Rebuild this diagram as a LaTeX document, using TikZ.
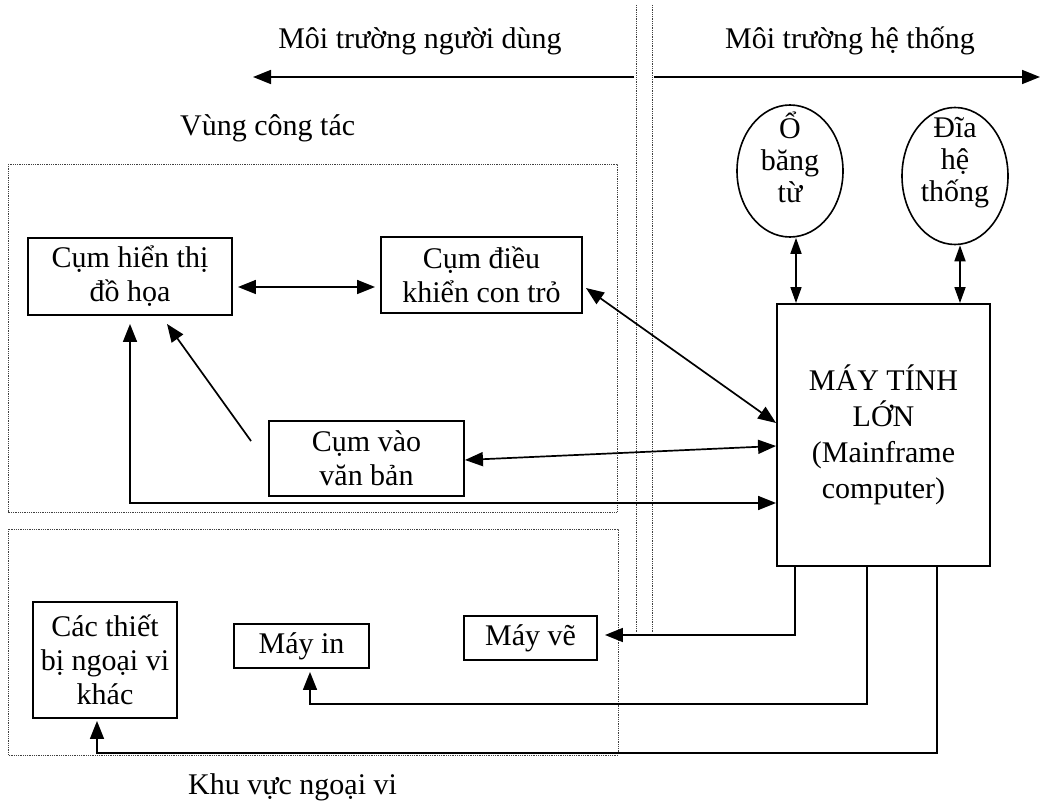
\documentclass[tikz,border=0pt]{standalone}
\usepackage{fontspec}
\setmainfont{Liberation Serif}
\usetikzlibrary{arrows.meta,shapes.geometric,calc}
\begin{document}
\begin{tikzpicture}[x=1pt,y=-1pt,
  box/.style={draw, line width=1.9pt, inner sep=0pt, align=center, font=\fontsize{30}{34}\selectfont},
  ell/.style={draw, ellipse, line width=1.6pt, inner sep=0pt},
  etext/.style={inner sep=0pt, align=center, font=\fontsize{30}{32}\selectfont},
  conn/.style={line width=1.7pt},
  tip/.style={-{Triangle[length=18pt,width=14pt]}},
  dtip/.style={{Triangle[length=18pt,width=14pt]}-{Triangle[length=18pt,width=14pt]}},
  stip/.style={{Triangle[length=16pt,width=11pt]}-{Triangle[length=16pt,width=11pt]}},
  zone/.style={densely dotted, line width=0.8pt, black!75},
  lbl/.style={font=\fontsize{30}{35}\selectfont, inner sep=0pt}]
\useasboundingbox (0,0) rectangle (1045,802);

% zones
\draw[zone] (8,164) rectangle (617,512);
\draw[zone] (8,529) rectangle (618,755);
\coordinate (v1t) at (636,5); \coordinate (v1b) at (636,633);
\coordinate (v2t) at (652,5); \coordinate (v2b) at (652,633);
\draw[zone] (v1t) -- (v1b);
\draw[zone] (v2t) -- (v2b);

% top labels and arrows
\node[lbl, anchor=base] (user) at (420,49) {Môi trường người dùng};
\node[lbl, anchor=base] (sys) at (850,49) {Môi trường hệ thống};
\coordinate (al0) at (634,77); \coordinate (al1) at (253,77);
\coordinate (ar0) at (654,77); \coordinate (ar1) at (1040,77);
\draw[conn, tip] (al0) -- (al1);
\draw[conn, tip] (ar0) -- (ar1);

\node[lbl, anchor=base west] (vung) at (180,136) {Vùng công tác};
\node[lbl, anchor=base west] (khu) at (188,794) {Khu vực ngoại vi};

% boxes
\node[box, minimum width=204pt, minimum height=77pt] (hienthi) at (130,276.5) {Cụm hiển thị\\đồ họa};
\node[box, minimum width=201pt, minimum height=76pt] (dieukhien) at (481.5,275) {Cụm điều\\khiển con trỏ};
\node[box, minimum width=195pt, minimum height=75pt] (vanban) at (366.5,458.5) {Cụm vào\\văn bản};
\node[box, minimum width=144pt, minimum height=116pt] (thietbi) at (105,660) {Các thiết\\bị ngoại vi\\khác};
\node[box, minimum width=135pt, minimum height=44pt] (mayin) at (301.5,646) {Máy in};
\node[box, minimum width=133pt, minimum height=44pt] (mayve) at (530.5,638) {Máy vẽ};
\node[box, minimum width=213pt, minimum height=262pt, font=\fontsize{30}{36}\selectfont] (main) at (883.5,435) {MÁY TÍNH\\LỚN\\(Mainframe\\computer)};
\node[ell, minimum width=106pt, minimum height=132pt] (bang) at (790,171) {};
\node[etext] (bangt) at ([yshift=14pt]bang.center) {Ổ\\băng\\từ};
\node[ell, minimum width=106pt, minimum height=137pt] (dia) at (955,176) {};
\node[etext] (diat) at ([yshift=13pt]dia.center) {Đĩa\\hệ\\thống};

% connectors
\draw[conn, dtip, shorten <=5pt, shorten >=5pt] ([yshift=-10.5pt]hienthi.east) -- ([yshift=-10.5pt]hienthi.east -| dieukhien.west);
\draw[conn, dtip] ([xshift=3pt,yshift=-13pt]dieukhien.east) -- ([yshift=12pt]main.west);
\draw[conn, dtip] ([yshift=-1.5pt]vanban.east) -- ([yshift=-11pt]main.west);
\coordinate (k1) at (130,503);
\draw[conn, dtip, shorten <=8pt] (hienthi.south) -- (k1) -- (k1 -| main.west);
\draw[conn, tip] ([xshift=-17pt,yshift=-21pt]vanban.north west) -- ([xshift=37pt,yshift=-8pt]hienthi.south);
\draw[conn, stip] ([xshift=6pt]bang.south) -- ([xshift=6pt]bang.south |- main.north);
\draw[conn, stip] ([xshift=5pt]dia.south) -- ([xshift=5pt]dia.south |- main.north);

\coordinate (c1) at (795,635);
\draw[conn, tip, shorten >=7pt] (main.south -| c1) -- (c1) -- (c1 -| mayve.east);
\coordinate (c2) at (867,704); \coordinate (c2b) at (310,704);
\draw[conn, tip, shorten >=3pt] (main.south -| c2) -- (c2) -- (c2b) -- (c2b |- mayin.south);
\coordinate (c3) at (937,753); \coordinate (c3b) at (97,753);
\draw[conn, tip, shorten >=2pt] (main.south -| c3) -- (c3) -- (c3b) -- (c3b |- thietbi.south);
\end{tikzpicture}
\end{document}
